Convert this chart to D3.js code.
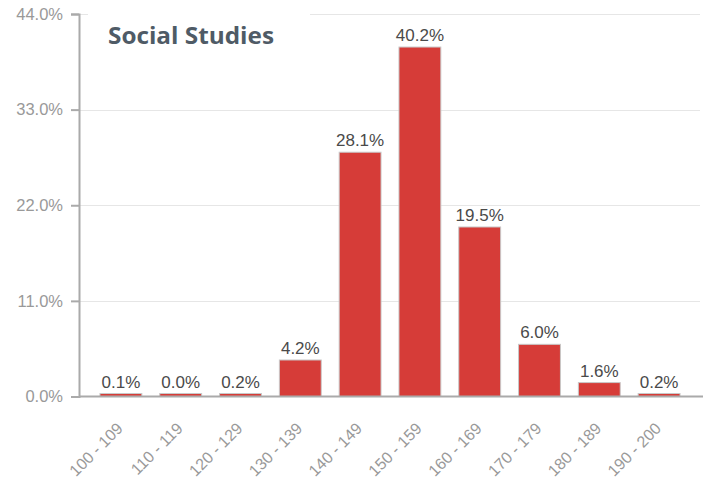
<!DOCTYPE html>
<html>
<head>
<meta charset="utf-8">
<script src="https://cdn.jsdelivr.net/npm/d3@7"></script>
<style>
  body { margin: 0; background: #fff; }
  svg { display: block; }
</style>
</head>
<body>
<figure id="chart" style="margin:0"></figure>
<script>
const categories = ['100 - 109', '110 - 119', '120 - 129', '130 - 139', '140 - 149',
  '150 - 159', '160 - 169', '170 - 179', '180 - 189', '190 - 200']
const values = [0.1, 0.0, 0.2, 4.2, 28.1, 40.2, 19.5, 6.0, 1.6, 0.2]
const yTicks = [0, 11, 22, 33, 44]
const title = 'Social Studies'

const W = 703
const H = 479
const margin = {top: 14, right: 0, bottom: 82, left: 79}
const font = '"Liberation Sans", Arial, sans-serif'

const svg = d3.select('#chart')
  .append('svg')
  .attr('width', W)
  .attr('height', H)

const x = d3.scaleBand()
  .domain(categories)
  .range([91, 689])
  .paddingInner(0.3)
  .paddingOuter(0.15)

const y = d3.scaleLinear()
  .domain([0, 44])
  .range([H - margin.bottom - 0.5, margin.top])

// keep tiny bars visible, as the original does
const barTop = d => Math.min(y(d), y(0) - 3)

// gridlines
svg.append('g')
  .selectAll('line')
  .data(yTicks.filter(d => d > 0))
  .enter()
  .append('line')
  .attr('x1', margin.left)
  .attr('x2', 700)
  .attr('y1', d => Math.round(y(d)) + 0.5)
  .attr('y2', d => Math.round(y(d)) + 0.5)
  .attr('stroke', '#e6e6e6')
  .attr('stroke-width', 1)

// title box covers the top gridline
svg.append('rect')
  .attr('x', 88)
  .attr('y', 0)
  .attr('width', 222)
  .attr('height', 60)
  .attr('fill', '#fff')

svg.append('text')
  .attr('x', 108)
  .attr('y', 44)
  .attr('textLength', 166)
  .attr('lengthAdjust', 'spacingAndGlyphs')
  .style('font-family', '"Open Sans", Lato, sans-serif')
  .style('font-weight', 'bold')
  .style('font-size', '23px')
  .attr('fill', '#4f5b66')
  .text(title)

// bars
svg.selectAll('rect.bar')
  .data(values)
  .enter()
  .append('rect')
  .attr('class', 'bar')
  .attr('x', (d, i) => x(categories[i]))
  .attr('y', d => barTop(d))
  .attr('width', x.bandwidth())
  .attr('height', d => y(0) - barTop(d))
  .attr('fill', '#d63c38')
  .attr('stroke', '#c8c8c8')
  .attr('stroke-width', 1)

// value labels
svg.selectAll('text.val')
  .data(values)
  .enter()
  .append('text')
  .attr('class', 'val')
  .attr('x', (d, i) => x(categories[i]) + x.bandwidth() / 2)
  .attr('y', d => barTop(d) - 6)
  .attr('text-anchor', 'middle')
  .style('font-family', font)
  .style('font-size', '17px')
  .attr('fill', '#4a4a4a')
  .text(d => d.toFixed(1) + '%')

// y axis
const yAxis = svg.append('g')
  .attr('transform', `translate(${margin.left}, 0)`)
  .call(d3.axisLeft(y).tickValues(yTicks).tickSize(8).tickPadding(8)
    .tickFormat(d => d.toFixed(1) + '%'))
yAxis.select('.domain').attr('stroke', '#aaa').attr('stroke-width', 2)
yAxis.selectAll('.tick line').attr('stroke', '#aaa').attr('stroke-width', 2)
yAxis.selectAll('text')
  .style('font-family', font)
  .style('font-size', '16.5px')
  .attr('fill', '#999')

// x baseline
svg.append('line')
  .attr('x1', margin.left)
  .attr('x2', W)
  .attr('y1', y(0))
  .attr('y2', y(0))
  .attr('stroke', '#aaa')
  .attr('stroke-width', 2)

// x labels
svg.append('g')
  .selectAll('text')
  .data(categories)
  .enter()
  .append('text')
  .attr('transform', d => `translate(${x(d) + x.bandwidth() / 2 + 3}, ${y(0) + 33}) rotate(-45)`)
  .attr('text-anchor', 'end')
  .style('font-family', font)
  .style('font-size', '16px')
  .attr('fill', '#999')
  .text(d => d)
</script>
</body>
</html>
